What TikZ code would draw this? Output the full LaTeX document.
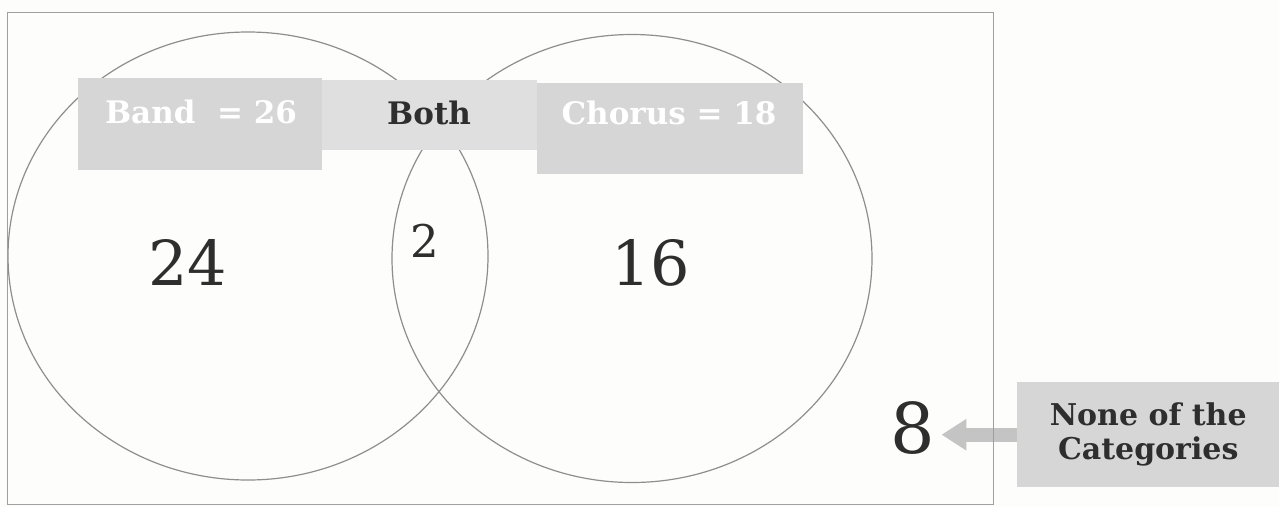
\documentclass[tikz,border=0pt]{standalone}
\usepackage{fontspec}
\setmainfont{DejaVu Serif}
\usetikzlibrary{arrows.meta,shapes.geometric}
\definecolor{paper}{HTML}{FDFDFB}
\definecolor{boxgrey}{HTML}{D6D6D6}
\definecolor{bothgrey}{HTML}{DFDFDF}
\definecolor{linegrey}{HTML}{8E8E8E}
\definecolor{inkdark}{HTML}{2E2E2E}
\definecolor{arrowgrey}{HTML}{C4C4C4}

\begin{document}
\begin{tikzpicture}[
        x                       = 1pt,
        y                       = -1pt,
        vennset/.style          = {ellipse, draw=linegrey, line width=1.2pt, inner sep=0pt,
                                   minimum width=480pt, minimum height=448pt},
        greybox/.style          = {fill=boxgrey, inner sep=0pt, anchor=north west},
        whitelabel/.style       = {text=white, font=\bfseries\fontsize{31}{31}\selectfont},
        darklabel/.style        = {text=inkdark, font=\bfseries\fontsize{31}{31}\selectfont},
        count/.style            = {text=inkdark, font=\fontsize{62}{62}\selectfont},
        %sloped
      ]
        \fill[paper] (0,0) rectangle (1279,507);
        \useasboundingbox (0,0) rectangle (1279,507);

        % the two sets
        \node[vennset] (bandset)   at (248,256)   {};
        \node[vennset] (chorusset) at (632,258.5) {};

        % headings
        \node[greybox, fill=bothgrey, minimum width=217pt, minimum height=70pt] (bothbox) at (320,80) {};
        \node[greybox, minimum width=244pt, minimum height=92pt] (bandbox)   at (78,78)  {};
        \node[greybox, minimum width=266pt, minimum height=91pt] (chorusbox) at (537,83) {};
        \node[whitelabel] (bandlabel)   at (201,112) {Band\ \ = 26};
        \node[darklabel]  (bothlabel)   at (429,113) {Both};
        \node[whitelabel] (choruslabel) at (669,113) {Chorus = 18};

        % counts
        \node[count] (onlyband)   at (188,262) {24};
        \node[count, font=\fontsize{45}{45}\selectfont] (inboth) at (425,241) {2};
        \node[count] (onlychorus) at (651,263) {16};
        \node[count, font=\fontsize{70}{70}\selectfont, inner xsep=6pt] (eight) at (913,428) {8};

        \node[greybox, minimum width=262pt, minimum height=105pt, align=center,
              darklabel, font=\bfseries\fontsize{30}{34}\selectfont] (none) at (1017,382)
              {None of the\\Categories};
        \draw[arrowgrey, line width=14pt, -{Triangle[length=25pt, width=30pt]}]
              (none.west) -- (none.west -| eight.east);

        % universe
        \node[draw=linegrey!85!white, line width=1.1pt, inner sep=0pt, anchor=north west,
              minimum width=986pt, minimum height=492pt] (universe) at (7,12) {};
    \end{tikzpicture}
\end{document}
